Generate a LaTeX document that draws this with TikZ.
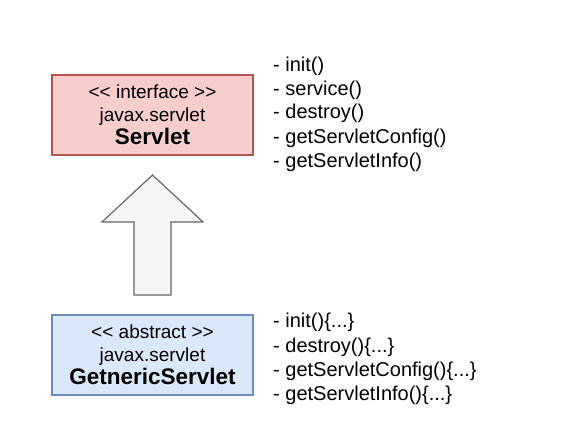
\documentclass[tikz,border=0pt]{standalone}
\usepackage{fontspec}
\setmainfont{Liberation Sans}[Ligatures=TeXOff]
\definecolor{redfill}{HTML}{F8CECC}
\definecolor{redline}{HTML}{B85450}
\definecolor{bluefill}{HTML}{DAE8FC}
\definecolor{blueline}{HTML}{6C8EBF}
\definecolor{grayfill}{HTML}{F5F5F5}
\definecolor{grayline}{HTML}{666666}
\begin{document}
\begin{tikzpicture}[x=1pt,y=-1pt,
  classbox/.style={draw, line width=1.2pt, minimum width=201pt, minimum height=80pt, inner sep=0pt, align=center,
    font=\fontsize{19}{23}\selectfont},
  methods/.style={anchor=base west, inner sep=0pt, font=\fontsize{20}{24}\selectfont}]
\useasboundingbox (0,0) rectangle (575,446);
\fill[white] (0,0) rectangle (575,446);
\node[classbox, fill=redfill, draw=redline] (servlet) at (152.5,115) {<{}< interface >{}>\\javax.servlet\\{\fontsize{22.5}{23}\selectfont\bfseries Servlet}};
\node[classbox, fill=bluefill, draw=blueline] (generic) at (152.5,355) {<{}< abstract >{}>\\javax.servlet\\{\fontsize{22.5}{23}\selectfont\bfseries GetnericServlet}};
\draw[grayline, fill=grayfill, line width=1.2pt, line join=miter]
  (152.5,175) -- (203,222) -- (171,222) -- (171,295) -- (134,295) -- (134,222) -- (102,222) -- cycle;
\node[methods] (m1) at (273,71.5) {- init()};
\node[methods] (m2) at (273,95.5) {- service()};
\node[methods] (m3) at (273,119) {- destroy()};
\node[methods] (m4) at (273,143.5) {- getServletConfig()};
\node[methods] (m5) at (273,167.5) {- getServletInfo()};
\node[methods] (g1) at (273,327.5) {- init()\{...\}};
\node[methods] (g2) at (273,352.5) {- destroy()\{...\}};
\node[methods] (g3) at (273,376) {- getServletConfig()\{...\}};
\node[methods] (g4) at (273,400) {- getServletInfo()\{...\}};
\end{tikzpicture}
\end{document}
